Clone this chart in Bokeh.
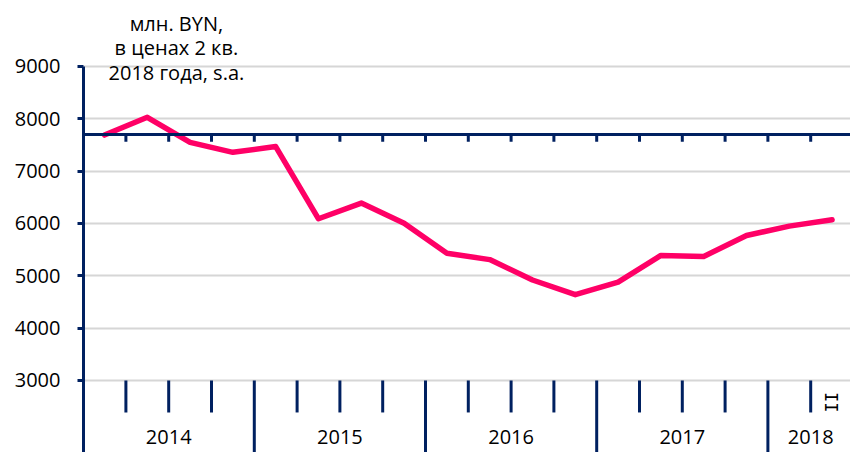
from bokeh.plotting import figure
from bokeh.models import Range1d, FixedTicker, Span, Label
from bokeh.embed import file_html
from bokeh.resources import INLINE
from bokeh.core.properties import value

# ---------------- data ----------------
years = ["2014", "2015", "2016", "2017", "2018"]
quarters_per_year = [4, 4, 4, 4, 2]
quarter_names = ["I", "II", "III", "IV", "I", "II", "III", "IV", "I", "II", "III", "IV",
                 "I", "II", "III", "IV", "I", "II"]
values = [7690, 8030, 7550, 7360, 7470, 6090, 6390, 6005,
          5430, 5310, 4920, 4640, 4880, 5390, 5370, 5770, 5950, 6070]
reference_level = 7700
y_ticks = [3000, 4000, 5000, 6000, 7000, 8000, 9000]
title_lines = ["млн. BYN,", "в ценах 2 кв.", "2018 года, s.a."]
shown_quarter_label = quarter_names[-1]   # only the last quarter is labelled

# ---------------- style ----------------
NAVY = "#002060"
PINK = "#FF0066"
GRID = "#d6d6d6"
FONT = "Open Sans"
FS = "20px"

Y_BOTTOM, Y_TOP = 1624, 10261
n = len(values)
xs = list(range(n))

p = figure(width=850, height=452,
           x_range=Range1d(-0.4907, 17.43), y_range=Range1d(Y_BOTTOM, Y_TOP),
           output_backend="svg", toolbar_location=None, x_axis_location=None,
           min_border_left=83, min_border_right=0, min_border_top=0, min_border_bottom=0)
p.outline_line_color = None
p.background_fill_color = "white"
p.xgrid.visible = False
p.ygrid.ticker = FixedTicker(ticks=y_ticks)
p.ygrid.grid_line_color = GRID
p.ygrid.grid_line_width = 2

ax = p.yaxis[0]
ax.ticker = FixedTicker(ticks=y_ticks)
ax.bounds = (Y_BOTTOM, y_ticks[-1])
ax.axis_line_color = NAVY
ax.axis_line_width = 3
ax.major_tick_line_color = NAVY
ax.major_tick_line_width = 3
ax.major_tick_out = 6
ax.major_tick_in = 0
ax.minor_tick_line_color = None
ax.major_label_standoff = 17
ax.major_label_text_font = FONT
ax.major_label_text_font_size = FS
ax.major_label_text_color = "black"

# series line
p.line(xs, values, line_color=PINK, line_width=5.5, line_join="round", line_cap="round")

# reference level line with quarter ticks
p.add_layout(Span(location=reference_level, dimension="width", line_color=NAVY, line_width=3))
bounds_all = [i + 0.5 for i in range(n)]
p.segment(x0=bounds_all, y0=[reference_level] * n, x1=bounds_all, y1=[reference_level - 140] * n,
          line_color=NAVY, line_width=3, line_cap="butt")

# bottom category axis: quarter ticks and year separators
year_edges = []
acc = 0
for q in quarters_per_year:
    acc += q
    year_edges.append(acc - 0.5)
year_starts = [-0.5] + year_edges[:-1]
year_centers = [(s + e) / 2 for s, e in zip(year_starts, year_edges)]

short_x = [b for b in bounds_all if b not in year_edges]
p.segment(x0=short_x, y0=[y_ticks[0]] * len(short_x), x1=short_x, y1=[2389] * len(short_x),
          line_color=NAVY, line_width=3, line_cap="butt")
long_x = [e for e in year_edges if e < n - 0.5]
p.segment(x0=long_x, y0=[y_ticks[0]] * len(long_x), x1=long_x, y1=[Y_BOTTOM] * len(long_x),
          line_color=NAVY, line_width=3, line_cap="butt")

# year labels
p.text(x=year_centers, y=[1915] * len(years), text=years,
       text_font=value(FONT), text_font_size=FS, text_color="black",
       text_align="center", text_baseline="alphabetic")

# last quarter label (rotated)
p.text(x=[n - 1], y=[2585], text=[shown_quarter_label], angle=1.5708,
       text_font=value("DejaVu Sans Mono"), text_font_size="17px", text_color="black",
       text_align="center", text_baseline="middle")

# unit title
for t, yy in zip(title_lines, [9822, 9363, 8886]):
    p.add_layout(Label(x=1.68, y=yy, text=t, text_align="center", text_baseline="alphabetic",
                       text_font=FONT, text_font_size=FS, text_color="black"))

open("out.html", "w").write(file_html(p, INLINE))
